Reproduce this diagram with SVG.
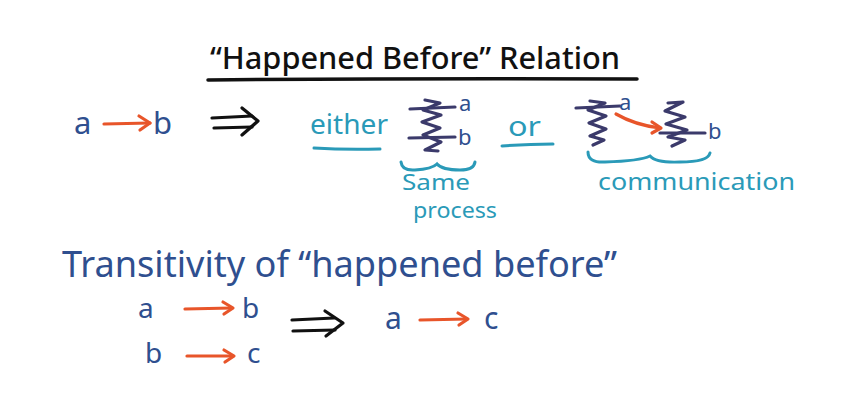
<svg xmlns="http://www.w3.org/2000/svg" width="850" height="402" viewBox="0 0 850 402">
<defs>
<style>
text{font-family:"Noto Sans","Open Sans",sans-serif}
.blue{fill:#2f4f8f}
.teal{fill:#2a9ab8}
.blk{fill:#111}
.navy{stroke:#3b3a6b;stroke-width:3.2;fill:none;stroke-linecap:round;stroke-linejoin:round}
.tl{stroke:#2a9ab8;stroke-width:3;fill:none;stroke-linecap:round}
.or{stroke:#e8552a;stroke-width:3.2;fill:none;stroke-linecap:round;stroke-linejoin:round}
.bk{stroke:#111;stroke-width:3.2;fill:none;stroke-linecap:round;stroke-linejoin:round}
</style>
</defs>
<rect width="850" height="402" fill="#fff"/>
<g id="title">
<text x="210" y="69" font-size="31" font-weight="500" class="blk" textLength="410" lengthAdjust="spacingAndGlyphs">“Happened Before” Relation</text>
<path d="M208 80 Q420 78 637 79" stroke="#111" stroke-width="3.5" fill="none" stroke-linecap="round"/>
</g>
<g id="ab-main">
<text x="74" y="134" font-size="31" class="blue">a</text>
<text x="153" y="134" font-size="31" class="blue">b</text>
</g>
<g id="either">
<text x="310" y="134" font-size="28" class="teal" textLength="78" lengthAdjust="spacingAndGlyphs">either</text>
<path d="M314 148 Q345 150 380 149" class="tl"/>
</g>
<g id="same-process">
<path d="M410 109 L455 107" class="navy"/>
<path d="M409 138 L455 137" class="navy"/>
<path d="M425 100 L440 103 L423 110 L441 115 L422 122 L440 128 L423 135 L441 142 L425 150 L438 151" class="navy"/>
<text x="459" y="111" font-size="22" class="blue">a</text>
<text x="458" y="145" font-size="22" class="blue">b</text>
<path d="M401 162 Q402 171 415 170 Q432 169 437 164 Q442 170 460 170 Q474 170 475 162" class="tl"/>
<text x="402" y="190" font-size="21" class="teal" textLength="68" lengthAdjust="spacingAndGlyphs">Same</text>
<text x="413" y="218" font-size="21" class="teal" textLength="84" lengthAdjust="spacingAndGlyphs">process</text>
</g>
<g id="or">
<text x="508" y="136" font-size="28" class="teal" textLength="33" lengthAdjust="spacingAndGlyphs">or</text>
<path d="M502 146 Q528 144 553 144" class="tl"/>
</g>
<g id="communication">
<path d="M576 108 L620 106" class="navy"/>
<path d="M590 101 L605 103 L588 110 L606 116 L589 123 L606 129 L590 136 L604 140 L593 145" class="navy"/>
<text x="619" y="110" font-size="22" class="blue">a</text>
<path d="M668 103 L683 102 L665 111 L685 117 L666 124 L687 130 L668 137 L685 140 L672 146" class="navy"/>
<path d="M660 133 L705 133" class="navy"/>
<text x="708" y="139" font-size="22" class="blue">b</text>
<path d="M588 152 Q588 163 605 162 Q640 161 650 156 Q656 163 680 162 Q708 162 710 153" class="tl"/>
<text x="598" y="190" font-size="24" class="teal" textLength="197" lengthAdjust="spacingAndGlyphs">communication</text>
</g>
<g id="transitivity">
<text x="62" y="277" font-size="37" class="blue" textLength="555" lengthAdjust="spacingAndGlyphs">Transitivity of “happened before”</text>
<text x="138" y="318" font-size="28" class="blue">a</text>
<text x="242" y="318" font-size="28" class="blue">b</text>
<text x="145" y="363" font-size="28" class="blue">b</text>
<text x="247" y="363" font-size="28" class="blue">c</text>
<text x="385" y="329" font-size="30" class="blue">a</text>
<text x="484" y="329" font-size="30" class="blue">c</text>
</g>
<g id="connectors">
<path d="M104 124 L150 123" class="or"/>
<path d="M139 116 L150 123 L140 130" class="or"/>
<path d="M212 118 L252 116 M214 128 L252 127" class="bk"/>
<path d="M242 108 L258 121 L242 135" class="bk"/>
<path d="M616 114 Q635 125 660 128" class="or" stroke-width="2.6"/>
<path d="M652 122 L661 128 L652 133" class="or" stroke-width="2.6"/>
<path d="M185 309 L232 308" class="or"/>
<path d="M223 302 L233 308 L224 314" class="or"/>
<path d="M187 356 L233 356" class="or"/>
<path d="M224 350 L234 356 L225 362" class="or"/>
<path d="M292 320 L334 318 M293 331 L335 330" class="bk"/>
<path d="M325 311 L343 323 L326 336" class="bk"/>
<path d="M420 320 L467 319" class="or"/>
<path d="M458 313 L468 319 L459 325" class="or"/>
</g>
</svg>
